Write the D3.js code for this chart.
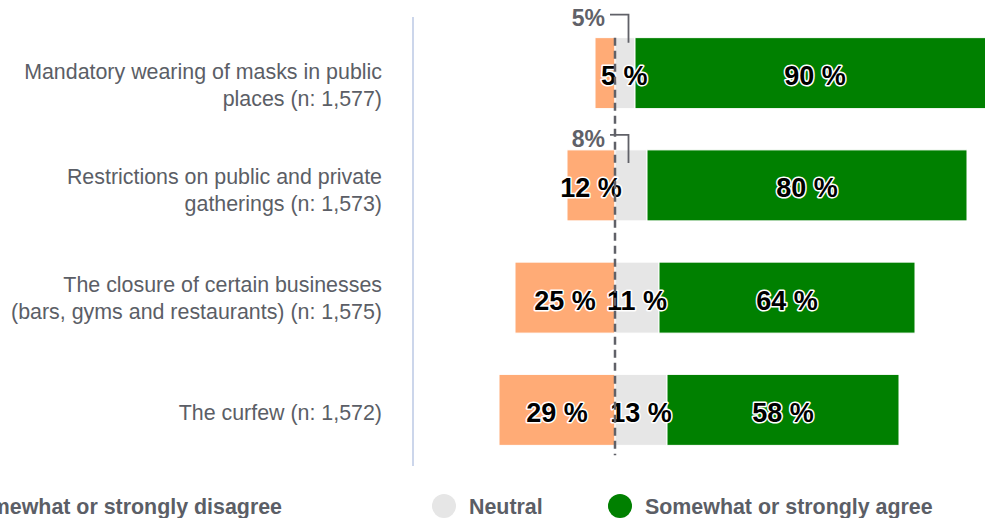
<!DOCTYPE html>
<html>
<head>
<meta charset="utf-8">
<script src="https://cdn.jsdelivr.net/npm/d3@7"></script>
<style>
  body { margin: 0; background: #fff; }
  svg { display: block; font-family: "Liberation Sans", Arial, sans-serif; }
</style>
</head>
<body>
<svg id="chart" width="985" height="518"></svg>
<script>
// Survey items (line breaks mark where the axis label wraps)
const categories = [
  "Mandatory wearing of masks in public\nplaces (n: 1,577)",
  "Restrictions on public and private\ngatherings (n: 1,573)",
  "The closure of certain businesses\n(bars, gyms and restaurants) (n: 1,575)",
  "The curfew (n: 1,572)"
];
const seriesNames = ["Somewhat or strongly disagree", "Neutral", "Somewhat or strongly agree"];
// Shares of respondents, in percent
const disagree = [5, 12, 25, 29];
const neutral  = [5, 8, 11, 13];
const agree    = [90, 80, 64, 58];

const seriesColors = ["#ffab76", "#e6e6e6", "#008000"];
const textGray = "#5b5e66";
const lineGray = "#606168";

// Layout tweaks
const labelNudge  = [12, 5, 0, 3];     // vertical shift of the category labels
const calloutRise = [23, 15, 15, 15];  // height of callout elbow above the bar

const svg = d3.select("#chart");

const x = d3.scaleLinear().domain([-50.5, 100]).range([413, 1015]);
const y = d3.scaleBand().domain(categories).range([17, 466])
  .paddingInner(0.3675).paddingOuter(0.18375);
const bw = y.bandwidth();

// left axis line
svg.append("line")
  .attr("x1", x.range()[0]).attr("x2", x.range()[0])
  .attr("y1", y.range()[0]).attr("y2", y.range()[1])
  .attr("stroke", "#ccd6eb").attr("stroke-width", 2);

// category labels
const yAxis = d3.axisLeft(y).tickSize(0).tickPadding(0).tickFormat("");
const axisG = svg.append("g").attr("transform", `translate(${x.range()[0] - 31},0)`).call(yAxis);
axisG.select(".domain").remove();
axisG.selectAll(".tick").each(function(d, i) {
  const lines = d.split("\n");
  const lh = 27;
  const t = d3.select(this).append("text")
    .attr("text-anchor", "end")
    .attr("fill", textGray)
    .attr("font-size", 21.4)
    .attr("font-family", "Liberation Sans, Arial, sans-serif");
  const y0 = -(lines.length - 1) * lh / 2 + 7.5 + labelNudge[i];
  lines.forEach((ln, k) => {
    t.append("tspan").attr("x", 0).attr("y", y0 + k * lh).text(ln);
  });
});

// stacked segments
const rows = categories.map((c, i) => ({
  cat: c,
  segs: [
    { s: 0, v: disagree[i], x0: -disagree[i], x1: 0 },
    { s: 1, v: neutral[i], x0: 0, x1: neutral[i] },
    { s: 2, v: agree[i], x0: neutral[i], x1: neutral[i] + agree[i] }
  ]
}));

const rowG = svg.selectAll("g.row").data(rows).join("g").attr("class", "row");
rowG.selectAll("rect").data(r => r.segs.map(s => ({ ...s, cat: r.cat })))
  .join("rect")
  .attr("x", d => x(d.x0))
  .attr("y", d => y(d.cat))
  .attr("width", d => x(d.x1) - x(d.x0))
  .attr("height", bw)
  .attr("fill", d => seriesColors[d.s])
  .attr("stroke", "#fff").attr("stroke-width", 1);

// in-bar value labels (small neutral shares get a callout instead)
const labelData = [];
rows.forEach(r => r.segs.forEach(s => {
  if (s.s === 1 && s.v < 10) return;
  const w = x(s.x1) - x(s.x0);
  const narrow = w < 30;
  labelData.push({
    cat: r.cat, v: s.v,
    px: narrow ? x(s.x0) + 6 : (x(s.x0) + x(s.x1)) / 2,
    anchor: narrow ? "start" : "middle"
  });
}));
svg.append("g").selectAll("text").data(labelData).join("text")
  .attr("x", d => d.px)
  .attr("y", d => y(d.cat) + bw / 2 + 12)
  .attr("text-anchor", d => d.anchor)
  .attr("font-size", 27).attr("font-weight", "bold")
  .attr("fill", "#000")
  .attr("stroke", "#fff").attr("stroke-width", 3)
  .attr("stroke-linejoin", "round")
  .attr("paint-order", "stroke")
  .text(d => `${d.v} %`);

// callouts for small neutral shares
const callouts = categories.map((c, i) => ({ cat: c, v: neutral[i], i }))
  .filter(d => d.v < 10);
const cg = svg.append("g").selectAll("g").data(callouts).join("g");
cg.append("path")
  .attr("d", d => {
    const yl = y(d.cat) - calloutRise[d.i];
    const cx = x(0) + 13.5;
    return `M${x(0) - 5},${yl}H${cx}V${yl + 28}`;
  })
  .attr("fill", "none").attr("stroke", lineGray).attr("stroke-width", 1.8);
cg.append("text")
  .attr("x", x(0) - 10)
  .attr("y", d => y(d.cat) - calloutRise[d.i] + 11.7)
  .attr("text-anchor", "end")
  .attr("font-size", 23).attr("font-weight", "bold")
  .attr("fill", lineGray)
  .text(d => `${d.v}%`);

// zero reference line
svg.append("line")
  .attr("x1", x(0)).attr("x2", x(0))
  .attr("y1", y(categories[0]))
  .attr("y2", y(categories[categories.length - 1]) + bw + 10)
  .attr("stroke", lineGray).attr("stroke-width", 2.5)
  .attr("stroke-dasharray", "8,5");

// legend
const legendCy = 506;
const legendX = [null, 444, 620];
const lg = svg.append("g").attr("font-size", 21.4).attr("font-weight", "bold");
seriesNames.forEach((name, k) => {
  const t = lg.append("text").attr("y", legendCy + 7.5).attr("fill", textGray).text(name);
  let cx;
  if (k === 0) {
    const w = t.node().getComputedTextLength();
    t.attr("x", 282 - w);
    cx = 282 - w - 25;
  } else {
    cx = legendX[k];
    t.attr("x", cx + 25);
  }
  lg.append("circle").attr("cx", cx).attr("cy", legendCy).attr("r", 12)
    .attr("fill", seriesColors[k]);
});
</script>
</body>
</html>
